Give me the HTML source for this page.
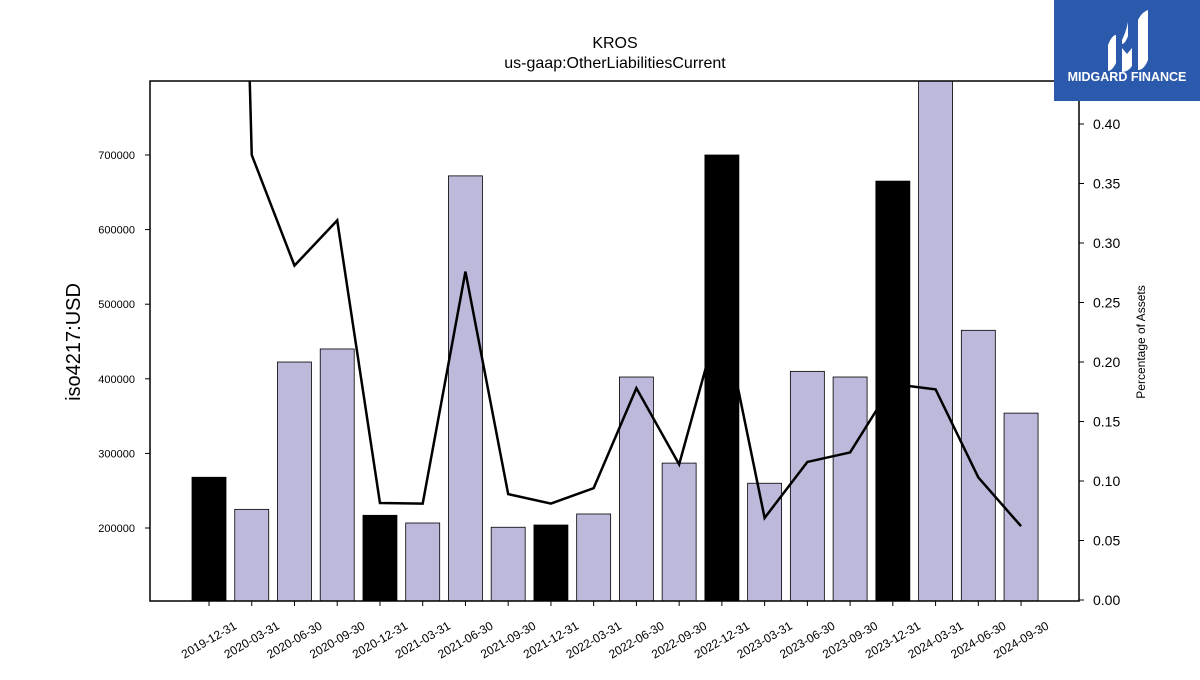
<!DOCTYPE html>
<html><head><meta charset="utf-8"><style>body{margin:0;background:#fff}svg{font-family:"Liberation Sans","DejaVu Sans",sans-serif}</style></head>
<body>
<svg id="c" width="1200" height="675" xmlns="http://www.w3.org/2000/svg">
<rect width="1200" height="675" fill="#fff"/>
<text x="615" y="48" font-size="16" text-anchor="middle">KROS</text>
<text x="615" y="68" font-size="16" text-anchor="middle">us-gaap:OtherLiabilitiesCurrent</text>
<defs><clipPath id="pa"><rect x="150" y="81" width="929" height="520"/></clipPath></defs>
<g id="bars" clip-path="url(#pa)"></g>
<g id="line" clip-path="url(#pa)"></g>
<rect x="150" y="81" width="929" height="520" fill="none" stroke="#000" stroke-width="1.5"/>
<g id="axes" font-size="12"></g>
<text transform="translate(80,342) rotate(-90)" font-size="20" text-anchor="middle">iso4217:USD</text>
<text transform="translate(1145,342) rotate(-90)" font-size="12" text-anchor="middle">Percentage of Assets</text>
<g>
<rect x="1054" y="0" width="146" height="101" fill="#2b5aad"/>
<path d="M1108 45 q4-10 8-10 v28 q-4 8-8 8z M1122 40 q4-8 6-18 v14 q-3 8-6 8z M1122 48 l5 6 l5-6 v18 q-4 6-10 6z M1138 20 q4-8 10-10 v50 q-4 10-10 10z" fill="#fff"/>
<text x="1127" y="81" font-size="12.5" font-weight="bold" fill="#fff" text-anchor="middle">MIDGARD FINANCE</text>
</g>
</svg>
<script>
const categories=["2019-12-31","2020-03-31","2020-06-30","2020-09-30","2020-12-31","2021-03-31","2021-06-30","2021-09-30","2021-12-31","2022-03-31","2022-06-30","2022-09-30","2022-12-31","2023-03-31","2023-06-30","2023-09-30","2023-12-31","2024-03-31","2024-06-30","2024-09-30"];
const barValues=[268000,225000,422500,440000,217000,206700,672000,201000,204000,218800,402400,287000,700000,260000,410000,402400,665000,810000,465000,354000];
const annual=[1,0,0,0,1,0,0,0,1,0,0,0,1,0,0,0,1,0,0,0];
const pctValues=[1.7,0.374,0.281,0.319,0.0815,0.081,0.276,0.089,0.081,0.094,0.178,0.114,0.244,0.069,0.116,0.124,0.1815,0.177,0.103,0.062];
const leftTicks=[200000,300000,400000,500000,600000,700000];
const rightTicks=[0,0.05,0.1,0.15,0.2,0.25,0.3,0.35,0.4];
const NS="http://www.w3.org/2000/svg";
const yL=v=>528-(v-200000)*0.000746;
const yR=v=>600-v*1190;
const xC=i=>209+i*42.74;
function mk(t,a,p){const e=document.createElementNS(NS,t);for(const k in a)e.setAttribute(k,a[k]);p.appendChild(e);return e;}
const bars=document.getElementById('bars'),line=document.getElementById('line'),axes=document.getElementById('axes');
barValues.forEach((v,i)=>{const y=yL(v);const r=mk('rect',{x:xC(i)-17,y:y,width:34,height:601-y,fill:annual[i]?'#000':'#bcb9da',stroke:'#000','stroke-width':0.8},bars);

});
const pts=pctValues.map((v,i)=>xC(i)+','+yR(v)).join(' ');
const pl=mk('polyline',{points:pts,fill:'none',stroke:'#000','stroke-width':2.5},line);


leftTicks.forEach(v=>{const y=yL(v);mk('line',{x1:145,x2:150,y1:y,y2:y,stroke:'#000'},axes);
const t=mk('text',{x:135,y:y+4,'text-anchor':'end','font-size':11},axes);t.textContent=v;

});
rightTicks.forEach(v=>{const y=yR(v);mk('line',{x1:1079,x2:1084,y1:y,y2:y,stroke:'#000'},axes);
const t=mk('text',{x:1093,y:y+5,'font-size':14},axes);t.textContent=v.toFixed(2);

});
categories.forEach((c,i)=>{const x=xC(i);mk('line',{x1:x,x2:x,y1:601,y2:606,stroke:'#000'},axes);
const t=mk('text',{x:x,y:644,'text-anchor':'middle','font-size':12,transform:`rotate(-30 ${x} 640)`},axes);t.textContent=c;

});
</script>
</body></html>
